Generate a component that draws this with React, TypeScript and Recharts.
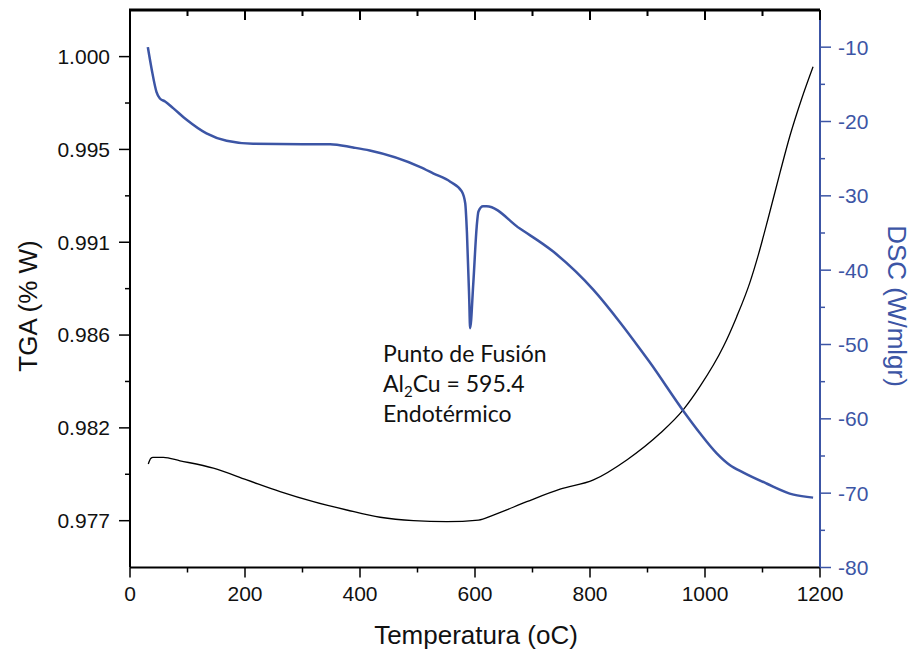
import { LineChart, Line, XAxis, YAxis, Customized } from 'recharts';

// temperatura (oC) / TGA (fracción de masa)
const tgaTemp = [31.8, 36, 40, 58, 87, 145, 203, 261, 319, 377, 435, 493, 551, 606, 632, 690, 748, 806, 864, 922, 962, 991, 1032, 1055, 1078, 1093, 1110, 1130, 1148, 1168, 1188];
const tgaValue = [0.97981, 0.98008, 0.98014, 0.98014, 0.97997, 0.9796, 0.97902, 0.97844, 0.97794, 0.97753, 0.97717, 0.977, 0.97695, 0.97703, 0.97728, 0.97794, 0.97856, 0.97902, 0.98001, 0.98133, 0.98249, 0.98364, 0.98563, 0.9871, 0.9888, 0.9902, 0.992, 0.9942, 0.9961, 0.9979, 0.9995];

// temperatura (oC) / DSC (W/mlgr)
const dscTemp = [31, 38, 46, 52, 61, 75, 99, 133, 168, 214, 300, 348, 388, 417, 504, 528, 557, 577, 583, 586, 590, 591.5, 597, 603, 606, 614, 620, 678, 736, 806, 852, 887, 904, 962, 991, 1020, 1043, 1066, 1107, 1154, 1188];
const dscValue = [-10.0, -13.1, -16.0, -16.9, -17.3, -18.2, -19.8, -21.6, -22.6, -23.0, -23.05, -23.05, -23.5, -23.9, -26.1, -27.0, -28.1, -29.4, -31.0, -35.0, -44.0, -47.8, -41.8, -34.1, -32.1, -31.4, -31.4, -34.4, -37.5, -42.65, -47.0, -50.6, -52.4, -58.9, -61.9, -64.6, -66.2, -67.2, -68.7, -70.2, -70.6];

// ejes
const tempMajor = [0, 200, 400, 600, 800, 1000, 1200];
const tempMinor = [100, 300, 500, 700, 900, 1100];
const tgaMajor = [0.977, 0.9816, 0.9862, 0.9908, 0.9954, 1.0];
const tgaLabels = ['0.977', '0.982', '0.986', '0.991', '0.995', '1.000'];
const tgaMinor = [0.9793, 0.9839, 0.9885, 0.9931, 0.9977];
const dscMajor = [-80, -70, -60, -50, -40, -30, -20, -10];
const dscMinor = [-75, -65, -55, -45, -35, -25, -15];

const tempDomain: [number, number] = [0, 1200];
const tgaDomain: [number, number] = [0.97468, 1.00231];
const dscDomain: [number, number] = [-80, -5];

const tgaData = tgaTemp.map((x, i) => ({ x, v: tgaValue[i] }));
const dscData = dscTemp.map((x, i) => ({ x, v: dscValue[i] }));

const W = 911;
const H = 652;
const LEFT_W = 130;
const RIGHT_W = 91;
const TOP = 10;
const BLUE = '#3c55a5';
const FONT = '"Liberation Sans", Arial, sans-serif';

const BottomTick = (props: any) => {
  const { x, y, payload } = props;
  const major = tempMajor.includes(payload.value);
  return (
    <g>
      <line x1={x} x2={x} y1={y} y2={y + (major ? 10 : 5)} stroke="#000" strokeWidth={1.5} />
      {major && (
        <text x={x} y={y + 26} dy="0.35em" textAnchor="middle" fontSize={21} fill="#111">
          {payload.value}
        </text>
      )}
    </g>
  );
};

const LeftTick = (props: any) => {
  const { x, y, payload } = props;
  const i = tgaMajor.indexOf(payload.value);
  return (
    <g>
      <line x1={x - (i >= 0 ? 11 : 5)} x2={x} y1={y} y2={y} stroke="#000" strokeWidth={1.5} />
      {i >= 0 && (
        <text x={x - 20} y={y} dy="0.35em" textAnchor="end" fontSize={21} fill="#111">
          {tgaLabels[i]}
        </text>
      )}
    </g>
  );
};

const RightTick = (props: any) => {
  const { x, y, payload } = props;
  const major = dscMajor.includes(payload.value);
  return (
    <g>
      <line x1={x} x2={x + (major ? 11 : 5)} y1={y} y2={y} stroke={BLUE} strokeWidth={1.5} />
      {major && (
        <text x={x + 18} y={y} dy="0.35em" textAnchor="start" fontSize={21} fill={BLUE}>
          {payload.value}
        </text>
      )}
    </g>
  );
};

// borde superior del marco, con marcas hacia dentro
const TopFrame = () => {
  const x0 = LEFT_W;
  const x1 = W - RIGHT_W;
  const sx = (t: number) => x0 + ((t - tempDomain[0]) / (tempDomain[1] - tempDomain[0])) * (x1 - x0);
  return (
    <svg width={W} height={H} style={{ position: 'absolute', left: 0, top: 0, pointerEvents: 'none' }}>
      <rect x={x0 - 1} y={TOP - 1.5} width={x1 - x0 + 1} height={3} fill="#000" />
      {[...tempMajor, ...tempMinor].map((t) => (
        <rect
          key={t}
          x={sx(t) - 1}
          y={TOP}
          width={2}
          height={tempMajor.includes(t) ? 10 : 6}
          fill="#000"
        />
      ))}
    </svg>
  );
};

const Labels = () => (
  <g fontFamily={FONT}>
    <text x={476} y={635} dy="0.35em" textAnchor="middle" fontSize={26} fill="#111">
      Temperatura (oC)
    </text>
    <text transform="translate(28,306) rotate(-90)" dy="0.35em" textAnchor="middle" fontSize={26} fill="#111">
      TGA (% W)
    </text>
    <text transform="translate(897,306) rotate(90)" dy="0.35em" textAnchor="middle" fontSize={26} fill={BLUE}>
      DSC (W/mlgr)
    </text>
    <g fontFamily="Lato, 'Open Sans', sans-serif" fontSize={23} fill="#111">
      <text x={383} y={362}>Punto de Fusión</text>
      <text x={383} y={392}>
        Al<tspan dy={5} fontSize={15}>2</tspan>
        <tspan dy={-5}>Cu = 595.4</tspan>
      </text>
      <text x={383} y={422}>Endotérmico</text>
    </g>
  </g>
);

export default function App() {
  return (
    <div style={{ position: 'absolute', left: 0, top: 0, width: W, height: H, background: '#fff', fontFamily: FONT }}>
      <LineChart width={W} height={H} margin={{ top: TOP, right: 0, bottom: 0, left: 0 }}>
        <XAxis
          xAxisId="b"
          dataKey="x"
          type="number"
          domain={tempDomain}
          ticks={[...tempMajor, ...tempMinor]}
          interval={0}
          height={84.5}
          tickSize={0}
          tickMargin={0}
          tick={<BottomTick />}
          axisLine={{ stroke: '#000', strokeWidth: 2 }}
          tickLine={false}
        />
        <YAxis
          yAxisId="tga"
          type="number"
          domain={tgaDomain}
          ticks={[...tgaMajor, ...tgaMinor]}
          interval={0}
          width={LEFT_W}
          tickSize={0}
          tickMargin={0}
          tick={<LeftTick />}
          axisLine={{ stroke: '#000', strokeWidth: 2 }}
          tickLine={false}
          allowDataOverflow
        />
        <YAxis
          yAxisId="dsc"
          orientation="right"
          type="number"
          domain={dscDomain}
          ticks={[...dscMajor, ...dscMinor]}
          interval={0}
          width={RIGHT_W}
          tickSize={0}
          tickMargin={0}
          tick={<RightTick />}
          axisLine={{ stroke: BLUE, strokeWidth: 2 }}
          tickLine={false}
          allowDataOverflow
        />
        <Line
          xAxisId="b"
          yAxisId="tga"
          data={tgaData}
          dataKey="v"
          type="monotone"
          stroke="#000"
          strokeWidth={1.3}
          dot={false}
          isAnimationActive={false}
        />
        <Line
          xAxisId="b"
          yAxisId="dsc"
          data={dscData}
          dataKey="v"
          type="monotone"
          stroke={BLUE}
          strokeWidth={2.5}
          dot={false}
          isAnimationActive={false}
        />
        <Customized component={Labels} />
      </LineChart>
      <TopFrame />
    </div>
  );
}
